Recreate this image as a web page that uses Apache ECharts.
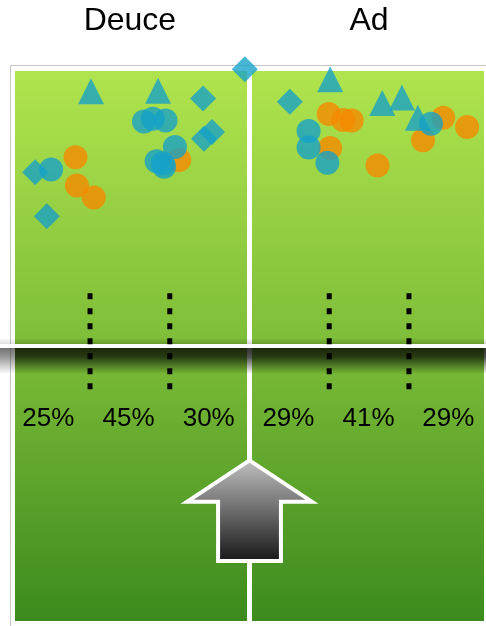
<!DOCTYPE html>
<html><head><meta charset="utf-8">
<script src="https://cdn.jsdelivr.net/npm/echarts@6/dist/echarts.min.js"></script>
<style>html,body{margin:0;padding:0;background:#fff}#c{width:486px;height:626px}</style>
</head><body><div id="c"></div>
<script>
// ---- data (court units: x 0..100 across both boxes, y 0..100 bottom to top, net at 50) ----
const sideNames = ['Deuce', 'Ad'];
const sideX = [24.5, 75.5];
const sideY = 109.0;
const percentLabels = ['25%', '45%', '30%', '29%', '41%', '29%'];
const percentX = [7.1, 24.2, 41.3, 58.3, 75.4, 92.4];
const percentY = 36.8;
const dividerX = [16, 33, 67, 84];
const dividerRange = [40.6, 59.6];
const centerLineX = 50;
const netY = 50;
const orangeCircles = [[35.0,83.8],[12.9,84.3],[13.2,79.2],[16.8,77.0],[66.9,92.2],[70.0,91.1],[71.8,91.0],[67.2,86.0],[77.3,82.8],[91.3,91.5],[96.4,89.8],[87.0,87.4]];
const blueCircles = [[27.5,90.8],[29.4,91.3],[32.1,91.0],[34.1,86.2],[30.2,83.6],[31.5,83.2],[31.8,82.6],[7.7,82.1],[62.6,89.1],[62.6,86.1],[66.6,83.3],[88.7,90.4]];
const triangles = [[16.2,96.3],[30.5,96.4],[67.2,98.5],[78.3,94.2],[82.5,95.2],[85.9,91.5]];
const diamonds = [[40.1,95.0],[42.0,88.9],[40.3,87.7],[4.3,81.6],[6.8,73.6],[49.0,100.3],[58.6,94.4]];
const arrowShape = [[50,29.2],[63.3,21.7],[56.7,21.7],[56.7,10.9],[43.3,10.9],[43.3,21.7],[36.7,21.7]];

const FONT = '"Liberation Sans", Arial, Helvetica, sans-serif';
const BLUE = 'rgb(20,160,200)';
const ORANGE = 'rgb(245,137,0)';
const LG = echarts.graphic.LinearGradient;

const chart = echarts.init(document.getElementById('c'), null, {renderer: 'canvas'});

function scatter(data, symbol, size, color, opacity, z) {
  return {type: 'scatter', data: data, symbol: symbol, symbolSize: size, clip: false, silent: true, z: z,
    itemStyle: {color: color, opacity: opacity}, emphasis: {disabled: true}};
}
function textSeries(xs, ys, names, size, z) {
  return {type: 'custom', z: z, clip: false, silent: true,
    data: xs.map(function (x) { return [x, ys]; }),
    renderItem: function (params, api) {
      const p = api.coord([api.value(0), api.value(1)]);
      return {type: 'text', x: p[0], y: p[1],
        style: {text: names[params.dataIndex], fill: '#000', font: size + 'px ' + FONT,
          align: 'center', verticalAlign: 'middle'}};
    }};
}

const option = {
  animation: false,
  backgroundColor: '#fff',
  grid: {left: 15, top: 71, width: 469, height: 550, show: true, borderWidth: 0,
    backgroundColor: new LG(0, 0, 0, 1, [{offset: 0, color: '#b0e44e'}, {offset: 0.5, color: '#7dbd38'}, {offset: 1, color: '#3c8a1e'}])},
  xAxis: {type: 'value', min: 0, max: 100, show: false},
  yAxis: {type: 'value', min: 0, max: 100, show: false},
  graphic: [
    {type: 'line', z: 0, shape: {x1: 10.5, y1: 66, x2: 10.5, y2: 626}, style: {stroke: '#c8c8c8', lineWidth: 1}},
    {type: 'line', z: 0, shape: {x1: 10, y1: 65.5, x2: 486, y2: 65.5}, style: {stroke: '#c8c8c8', lineWidth: 1}}
  ],
  series: [
    // center service line
    {type: 'custom', z: 1, clip: false, silent: true, data: [[centerLineX]],
      renderItem: function (params, api) {
        const t = api.coord([api.value(0), 100]), b = api.coord([api.value(0), 0]);
        return {type: 'line', shape: {x1: t[0], y1: t[1], x2: b[0], y2: b[1]}, style: {stroke: '#fff', lineWidth: 5}};
      }},
    // net
    {type: 'custom', z: 2, clip: false, silent: true, data: [[netY]],
      renderItem: function (params, api) {
        const y = api.coord([0, api.value(0)])[1];
        const W = api.getWidth();
        const gx = params.coordSys.x;
        return {type: 'group', children: [
          {type: 'rect', shape: {x: gx, y: y - 8, width: W - gx, height: 6},
            style: {fill: new LG(0, 0, 0, 1, [{offset: 0, color: 'rgba(0,0,0,0)'}, {offset: 1, color: 'rgba(0,0,0,0.18)'}])}},
          {type: 'rect', shape: {x: gx, y: y + 2, width: W - gx, height: 26},
            style: {fill: new LG(0, 0, 0, 1, [{offset: 0, color: 'rgba(0,0,0,0.8)'}, {offset: 0.35, color: 'rgba(0,0,0,0.68)'}, {offset: 1, color: 'rgba(0,0,0,0)'}])}},
          {type: 'rect', shape: {x: 0, y: y - 8, width: gx, height: 6},
            style: {fill: new LG(0, 0, 0, 1, [{offset: 0, color: 'rgba(0,0,0,0)'}, {offset: 1, color: 'rgba(0,0,0,0.12)'}])}},
          {type: 'rect', shape: {x: 0, y: y + 2, width: gx, height: 26},
            style: {fill: new LG(0, 0, 0, 1, [{offset: 0, color: 'rgba(0,0,0,0.55)'}, {offset: 0.35, color: 'rgba(0,0,0,0.4)'}, {offset: 1, color: 'rgba(0,0,0,0)'}])}},
          {type: 'rect', shape: {x: 0, y: y - 2, width: W, height: 4}, style: {fill: '#fff'}}
        ]};
      }},
    // dotted dividers
    {type: 'custom', z: 3, clip: false, silent: true,
      data: dividerX.map(function (x) { return [x, dividerRange[0], dividerRange[1]]; }),
      renderItem: function (params, api) {
        const t = api.coord([api.value(0), api.value(2)]), b = api.coord([api.value(0), api.value(1)]);
        return {type: 'line', shape: {x1: t[0], y1: t[1], x2: b[0], y2: b[1]},
          style: {stroke: '#000', lineWidth: 5, lineDash: [6, 9]}};
      }},
    textSeries(percentX, percentY, percentLabels, 26, 4),
    textSeries(sideX, sideY, sideNames, 32, 4),
    scatter(orangeCircles, 'circle', 24, ORANGE, 0.8, 5),
    scatter(blueCircles, 'circle', 24, BLUE, 0.78, 6),
    scatter(triangles, 'triangle', 26, BLUE, 0.78, 7),
    scatter(diamonds, 'diamond', 26, BLUE, 0.78, 7),
    // serve direction arrow
    {type: 'custom', z: 8, clip: false, silent: true, data: [[0]],
      renderItem: function (params, api) {
        const pts = arrowShape.map(function (p) { return api.coord(p); });
        return {type: 'polygon', shape: {points: pts},
          style: {fill: new LG(0, 0, 0, 1, [{offset: 0, color: '#c2c2c2'}, {offset: 1, color: '#151515'}]),
            stroke: '#fff', lineWidth: 4, lineJoin: 'miter'}};
      }}
  ]
};
chart.setOption(option);
</script></body></html>
